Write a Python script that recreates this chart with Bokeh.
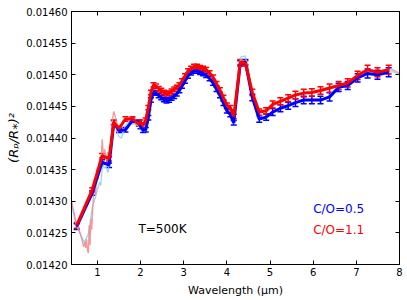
from bokeh.plotting import figure
from bokeh.models import (ColumnDataSource, Whisker, TeeHead, FixedTicker,
                          PrintfTickFormatter, LinearAxis, Range1d,
                          CustomJSTickFormatter)
from bokeh.core.properties import value
from bokeh.embed import file_html
from bokeh.resources import INLINE

# ---------------- data ----------------
wl_bin = [0.52, 0.88, 1.11, 1.27, 1.38, 1.50, 1.65, 1.81, 1.96,
          2.00, 2.06, 2.12, 2.18, 2.24, 2.30, 2.36, 2.42, 2.48, 2.54, 2.60,
          2.66, 2.72, 2.78, 2.84, 2.90, 2.96, 3.03, 3.10, 3.17, 3.24, 3.31,
          3.38, 3.45, 3.52, 3.60, 3.68, 3.76, 3.84, 3.92, 4.00, 4.08, 4.16,
          4.31, 4.43, 4.59, 4.75, 4.91, 5.06, 5.24, 5.42, 5.59, 5.78, 5.97,
          6.17, 6.38, 6.59, 6.80, 7.03, 7.26, 7.49, 7.75]

red_bin = [0.014262, 0.014318, 0.014372, 0.014367, 0.014425, 0.014415,
           0.014430, 0.014430, 0.014422,
           0.014425, 0.014420, 0.014428, 0.014448, 0.014472, 0.014484,
           0.014482, 0.014478, 0.014475, 0.014472, 0.014470, 0.014471,
           0.014474, 0.014477, 0.014480, 0.014484, 0.014490, 0.014498,
           0.014506, 0.014510, 0.014513, 0.014513, 0.014511, 0.014510,
           0.014508, 0.014503, 0.014496, 0.014486, 0.014476, 0.014464,
           0.014452, 0.014448, 0.014434,
           0.014520, 0.014518, 0.014472, 0.014441, 0.014443, 0.014453,
           0.014458, 0.014463, 0.014468, 0.014471, 0.014472, 0.014475,
           0.014479, 0.014483, 0.014487, 0.014499, 0.014508, 0.014504,
           0.014508]

blue_bin = [0.014260, 0.014313, 0.014362, 0.014357, 0.014424, 0.014412,
            0.014413, 0.014428, 0.014425,
            0.014418, 0.014412, 0.014413, 0.014432, 0.014460, 0.014472,
            0.014471, 0.014467, 0.014464, 0.014461, 0.014459, 0.014460,
            0.014463, 0.014466, 0.014470, 0.014475, 0.014482, 0.014490,
            0.014498, 0.014503, 0.014506, 0.014506, 0.014504, 0.014502,
            0.014499, 0.014494, 0.014487, 0.014477, 0.014467, 0.014455,
            0.014443, 0.014437, 0.014424,
            0.014518, 0.014520, 0.014464, 0.014430, 0.014433, 0.014441,
            0.014447, 0.014451, 0.014456, 0.014460, 0.014460, 0.014460,
            0.014465, 0.014480, 0.014483, 0.014495, 0.014502, 0.014500,
            0.014504]

red_err = [4.5e-6, 3.5e-6, 3.5e-6, 3.5e-6, 3.5e-6, 3.5e-6, 3.5e-6, 3.5e-6, 3.5e-6] \
    + [3.5e-6] * 33 \
    + [4e-6, 4e-6, 5e-6, 5e-6, 5e-6, 5.5e-6, 5.5e-6, 5.5e-6, 6e-6, 6e-6, 6e-6,
       6e-6, 6.5e-6, 6.5e-6, 6.5e-6, 6.5e-6, 7e-6, 7e-6, 7e-6]
blue_err = list(red_err)

wl_red_hr = [0.40, 0.45, 0.50, 0.55, 0.60, 0.64, 0.68, 0.71, 0.73, 0.75, 0.77,
             0.79, 0.81, 0.83, 0.85, 0.87, 0.90, 0.93, 0.96, 0.99, 1.02, 1.05,
             1.08, 1.11, 1.14, 1.17, 1.20, 1.24, 1.28, 1.31, 1.35, 1.38, 1.42,
             1.46, 1.50, 1.55, 1.60, 1.65, 1.70, 1.75, 1.80, 1.85, 1.90, 1.95,
             2.05, 2.15, 2.25, 2.35, 2.50, 2.65, 2.80, 2.95, 3.10, 3.25, 3.40,
             3.55, 3.70, 3.85, 4.00, 4.10, 4.18, 4.25, 4.32, 4.40, 4.47, 4.55,
             4.65, 4.75, 4.90, 5.10, 5.30, 5.50, 5.70, 5.90, 6.10, 6.30, 6.50,
             6.70, 6.90, 7.10, 7.30, 7.50, 7.70, 7.85, 8.00]
red_hr = [0.014300, 0.014285, 0.014268, 0.014258, 0.014250, 0.014240,
          0.014228, 0.014236, 0.014226, 0.014240, 0.014222, 0.014218,
          0.014262, 0.014230, 0.014272, 0.014255, 0.014300, 0.014335,
          0.014310, 0.014352, 0.014335, 0.014368, 0.014355, 0.014398,
          0.014372, 0.014382, 0.014365, 0.014378, 0.014360, 0.014392,
          0.014430, 0.014442, 0.014432, 0.014420, 0.014410, 0.014418,
          0.014425, 0.014433, 0.014428, 0.014434, 0.014428, 0.014432,
          0.014420, 0.014425,
          0.014418, 0.014440, 0.014476, 0.014486, 0.014474, 0.014470,
          0.014478, 0.014490, 0.014507, 0.014515, 0.014511, 0.014507,
          0.014494, 0.014474, 0.014450, 0.014445, 0.014432, 0.014490,
          0.014524, 0.014522, 0.014515, 0.014485, 0.014455, 0.014440,
          0.014443, 0.014454, 0.014460, 0.014466, 0.014470, 0.014472,
          0.014474, 0.014478, 0.014481, 0.014485, 0.014492, 0.014503,
          0.014506, 0.014504, 0.014506, 0.014508, 0.014502]

wl_blue_hr = [0.40, 0.50, 0.60, 0.70, 0.80, 0.88, 0.95, 1.00, 1.05, 1.08,
              1.12, 1.16, 1.20, 1.25, 1.30, 1.35, 1.40, 1.45, 1.50, 1.55,
              1.60, 1.65, 1.72, 1.80, 1.90, 2.00, 2.10, 2.20, 2.30, 2.45,
              2.60, 2.75, 2.90, 3.05, 3.20, 3.35, 3.50, 3.65, 3.80, 3.95,
              4.10, 4.18, 4.25, 4.32, 4.42, 4.50, 4.60, 4.72, 4.90, 5.10,
              5.30, 5.50, 5.70, 5.90, 6.10, 6.30, 6.50, 6.70, 6.90, 7.10,
              7.30, 7.50, 7.70, 7.85, 8.00]
blue_hr = [0.014295, 0.014265, 0.014248, 0.014235, 0.014250, 0.014290,
           0.014305, 0.014318, 0.014330, 0.014325, 0.014360, 0.014352,
           0.014355, 0.014345, 0.014385, 0.014420, 0.014425, 0.014412,
           0.014402, 0.014400, 0.014408, 0.014420, 0.014425, 0.014422,
           0.014422, 0.014415, 0.014410, 0.014440, 0.014472, 0.014466,
           0.014458, 0.014464, 0.014475, 0.014492, 0.014505, 0.014505,
           0.014500, 0.014490, 0.014472, 0.014450, 0.014433, 0.014422,
           0.014490, 0.014528, 0.014530, 0.014510, 0.014462, 0.014430,
           0.014432, 0.014442, 0.014449, 0.014454, 0.014458, 0.014460,
           0.014460, 0.014463, 0.014476, 0.014482, 0.014489, 0.014498,
           0.014502, 0.014499, 0.014503, 0.014505, 0.014500]

x_ticks = [1, 2, 3, 4, 5, 6, 7, 8]
y_ticks = [0.01420, 0.01425, 0.01430, 0.01435, 0.01440, 0.01445, 0.01450,
           0.01455, 0.01460]

series_labels = ["C/O=0.5", "C/O=1.1"]
temp_label = "T=500K"

# ---------------- figure ----------------
p = figure(width=407, height=300,
           x_range=Range1d(0.4, 8.0), y_range=Range1d(0.01420, 0.01460),
           output_backend="svg", toolbar_location=None,
           min_border_left=71, min_border_right=8, min_border_top=11,
           min_border_bottom=36)
p.xgrid.visible = False
p.ygrid.visible = False
p.background_fill_color = "white"
p.border_fill_color = "white"
p.outline_line_color = "black"
p.outline_line_width = 1

# high-resolution model spectra
p.line(wl_blue_hr, blue_hr, line_color="#87cefa", line_width=1.3, line_alpha=0.85)
p.line(wl_red_hr, red_hr, line_color="#f08080", line_width=1.3, line_alpha=0.8)

def binned(xs, ys, errs, color):
    src = ColumnDataSource(dict(x=xs, y=ys,
                                lo=[y - e for y, e in zip(ys, errs)],
                                hi=[y + e for y, e in zip(ys, errs)]))
    p.line("x", "y", source=src, line_color=color, line_width=3)
    w = Whisker(base="x", lower="lo", upper="hi", source=src,
                line_color=color, line_width=1.5,
                upper_head=TeeHead(size=6, line_color=color, line_width=1.5),
                lower_head=TeeHead(size=6, line_color=color, line_width=1.5))
    p.add_layout(w)

binned(wl_bin, blue_bin, blue_err, "#0000ff")
binned(wl_bin, red_bin, red_err, "#ff0000")

# annotations
p.text(x=[1.95], y=[0.014256], text=[temp_label], text_color="black",
       text_font=value("DejaVu Sans"), text_font_size="12px",
       text_align="left", text_baseline="middle")
p.text(x=[6.0, 6.0], y=[0.014287, 0.014255], text=series_labels,
       text_color=["#0000ff", "#ff0000"],
       text_font=value("DejaVu Sans"), text_font_size="12px",
       text_align="left", text_baseline="middle")

# axes
for ax in (p.xaxis[0], p.yaxis[0]):
    ax.major_tick_in = 4
    ax.major_tick_out = 0
    ax.minor_tick_line_color = None
    ax.axis_line_color = "black"
    ax.major_tick_line_color = "black"
    ax.major_label_text_font = "DejaVu Sans"
    ax.major_label_text_font_size = "10px"
    ax.major_label_text_color = "black"
    ax.major_label_standoff = 4
    ax.axis_label_text_font = "DejaVu Sans"
    ax.axis_label_text_font_size = "11px"
    ax.axis_label_text_font_style = "normal"
    ax.axis_label_text_color = "black"
    ax.axis_label_standoff = 2

p.xaxis[0].ticker = FixedTicker(ticks=x_ticks)
p.yaxis[0].ticker = FixedTicker(ticks=y_ticks)
p.yaxis[0].formatter = PrintfTickFormatter(format="%.5f")
p.xaxis[0].axis_label = "Wavelength (\u03bcm)"
p.xaxis[0].axis_label_standoff = 5
p.xaxis[0].major_label_standoff = 3
p.yaxis[0].axis_label = "(R\u209a/R\u204e)\u00b2"
p.yaxis[0].axis_label_text_font_style = "italic"
p.yaxis[0].axis_label_text_font_size = "13px"

for loc, ticks in (("above", x_ticks), ("right", y_ticks)):
    ax = LinearAxis(ticker=FixedTicker(ticks=ticks),
                    formatter=CustomJSTickFormatter(code="return ''"))
    ax.major_tick_in = 4
    ax.major_tick_out = 0
    ax.minor_tick_line_color = None
    ax.axis_line_color = "black"
    ax.major_label_standoff = 0
    p.add_layout(ax, loc)

open("out.html", "w").write(file_html(p, INLINE))
